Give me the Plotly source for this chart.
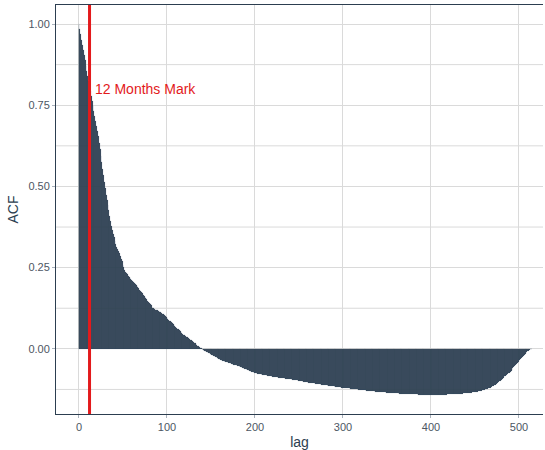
import plotly.graph_objects as go

# Autocorrelation estimates, one per lag (lag 0 .. 514)
lags = list(range(515))
acf_values = [
    1.000, 0.984, 0.968, 0.952, 0.936, 0.920, 0.904, 0.888, 0.872, 0.856,
    0.840, 0.825, 0.810, 0.794, 0.779, 0.763, 0.748, 0.732, 0.717, 0.701,
    0.686, 0.670, 0.655, 0.635, 0.615, 0.594, 0.574, 0.554, 0.534, 0.515,
    0.495, 0.475, 0.459, 0.443, 0.426, 0.410, 0.394, 0.377, 0.366, 0.355,
    0.344, 0.333, 0.323, 0.314, 0.306, 0.300, 0.294, 0.287, 0.278, 0.269,
    0.259, 0.251, 0.244, 0.238, 0.233, 0.229, 0.225, 0.222, 0.219, 0.216,
    0.213, 0.210, 0.207, 0.203, 0.200, 0.196, 0.193, 0.189, 0.186, 0.182,
    0.178, 0.175, 0.171, 0.167, 0.163, 0.160, 0.156, 0.152, 0.148, 0.145,
    0.141, 0.137, 0.134, 0.130, 0.127, 0.125, 0.123, 0.121, 0.120, 0.119,
    0.117, 0.116, 0.114, 0.112, 0.110, 0.108, 0.106, 0.104, 0.101, 0.099,
    0.096, 0.093, 0.090, 0.087, 0.085, 0.082, 0.079, 0.076, 0.073, 0.071,
    0.068, 0.065, 0.062, 0.060, 0.057, 0.054, 0.052, 0.049, 0.047, 0.044,
    0.042, 0.039, 0.037, 0.035, 0.033, 0.031, 0.029, 0.028, 0.026, 0.024,
    0.022, 0.019, 0.017, 0.014, 0.012, 0.010, 0.008, 0.006, 0.004, 0.002,
    -0.001, -0.003, -0.004, -0.006, -0.008, -0.009, -0.011, -0.012, -0.014, -0.015,
    -0.017, -0.018, -0.019, -0.021, -0.022, -0.024, -0.025, -0.027, -0.028, -0.030,
    -0.031, -0.033, -0.034, -0.036, -0.037, -0.038, -0.039, -0.040, -0.041, -0.042,
    -0.043, -0.044, -0.045, -0.046, -0.047, -0.048, -0.049, -0.049, -0.050, -0.051,
    -0.052, -0.053, -0.054, -0.055, -0.056, -0.057, -0.058, -0.060, -0.061, -0.062,
    -0.063, -0.064, -0.065, -0.066, -0.067, -0.068, -0.070, -0.071, -0.072, -0.073,
    -0.074, -0.075, -0.075, -0.076, -0.076, -0.077, -0.078, -0.078, -0.079, -0.079,
    -0.080, -0.081, -0.081, -0.082, -0.083, -0.083, -0.084, -0.084, -0.085, -0.085,
    -0.086, -0.086, -0.087, -0.087, -0.088, -0.088, -0.088, -0.089, -0.089, -0.090,
    -0.090, -0.090, -0.091, -0.091, -0.091, -0.092, -0.092, -0.092, -0.093, -0.093,
    -0.093, -0.094, -0.094, -0.095, -0.095, -0.096, -0.096, -0.097, -0.097, -0.098,
    -0.098, -0.099, -0.099, -0.100, -0.100, -0.101, -0.101, -0.102, -0.102, -0.103,
    -0.103, -0.104, -0.104, -0.104, -0.105, -0.105, -0.106, -0.106, -0.106, -0.107,
    -0.107, -0.108, -0.108, -0.109, -0.109, -0.109, -0.110, -0.110, -0.111, -0.111,
    -0.111, -0.112, -0.112, -0.113, -0.113, -0.113, -0.114, -0.114, -0.115, -0.115,
    -0.115, -0.116, -0.116, -0.117, -0.117, -0.118, -0.118, -0.118, -0.119, -0.119,
    -0.120, -0.120, -0.120, -0.121, -0.121, -0.121, -0.122, -0.122, -0.122, -0.123,
    -0.123, -0.123, -0.124, -0.124, -0.124, -0.125, -0.125, -0.125, -0.126, -0.126,
    -0.126, -0.127, -0.127, -0.127, -0.128, -0.128, -0.128, -0.129, -0.129, -0.129,
    -0.130, -0.130, -0.130, -0.131, -0.131, -0.131, -0.131, -0.132, -0.132, -0.132,
    -0.132, -0.133, -0.133, -0.133, -0.133, -0.134, -0.134, -0.134, -0.134, -0.135,
    -0.135, -0.135, -0.135, -0.135, -0.136, -0.136, -0.136, -0.136, -0.136, -0.137,
    -0.137, -0.137, -0.137, -0.137, -0.138, -0.138, -0.138, -0.138, -0.138, -0.138,
    -0.139, -0.139, -0.139, -0.139, -0.139, -0.139, -0.139, -0.140, -0.140, -0.140,
    -0.140, -0.140, -0.140, -0.140, -0.140, -0.140, -0.141, -0.141, -0.141, -0.141,
    -0.141, -0.141, -0.141, -0.141, -0.141, -0.141, -0.141, -0.141, -0.141, -0.142,
    -0.142, -0.142, -0.142, -0.142, -0.142, -0.142, -0.142, -0.142, -0.142, -0.142,
    -0.142, -0.142, -0.142, -0.141, -0.141, -0.141, -0.141, -0.141, -0.141, -0.140,
    -0.140, -0.140, -0.140, -0.140, -0.140, -0.140, -0.140, -0.139, -0.139, -0.139,
    -0.139, -0.139, -0.138, -0.138, -0.138, -0.138, -0.138, -0.137, -0.137, -0.137,
    -0.137, -0.137, -0.136, -0.136, -0.136, -0.135, -0.135, -0.134, -0.134, -0.134,
    -0.133, -0.133, -0.132, -0.132, -0.131, -0.130, -0.130, -0.129, -0.128, -0.127,
    -0.127, -0.126, -0.125, -0.124, -0.123, -0.122, -0.121, -0.120, -0.119, -0.117,
    -0.115, -0.114, -0.112, -0.110, -0.108, -0.106, -0.104, -0.102, -0.100, -0.098,
    -0.095, -0.093, -0.090, -0.088, -0.085, -0.083, -0.080, -0.078, -0.075, -0.073,
    -0.070, -0.067, -0.064, -0.060, -0.057, -0.054, -0.050, -0.047, -0.044, -0.041,
    -0.037, -0.034, -0.031, -0.028, -0.025, -0.022, -0.019, -0.016, -0.013, -0.010,
    -0.008, -0.006, -0.004, -0.002, -0.001,
]

mark_lag = 12
mark_label = "12 Months Mark"
x_ticks = [0, 100, 200, 300, 400, 500]
y_ticks = [0.0, 0.25, 0.50, 0.75, 1.00]
y_tick_labels = ["0.00", "0.25", "0.50", "0.75", "1.00"]
y_minor = [-0.125, 0.125, 0.375, 0.625, 0.875]

navy = "#2C3E50"
red = "#E31A1C"
grid = "#DADADA"
font_family = "Liberation Sans, Arial, sans-serif"

fig = go.Figure()
fig.add_trace(go.Bar(
    x=lags,
    y=acf_values,
    width=1.0,
    marker=dict(color=navy, line=dict(color="#3F5369", width=0.15)),
    hoverinfo="x+y",
    showlegend=False,
))

# secondary horizontal grid lines between the labelled ones
for yv in y_minor:
    fig.add_shape(type="line", xref="paper", x0=0, x1=1, yref="y", y0=yv, y1=yv,
                  line=dict(color=grid, width=1), layer="below")

# vertical marker at 12 months
fig.add_shape(type="line", xref="x", x0=mark_lag, x1=mark_lag, yref="paper", y0=0, y1=1,
              line=dict(color=red, width=3), layer="above")
fig.add_annotation(x=mark_lag + 3.5, y=0.80, xref="x", yref="y", text=mark_label,
                   showarrow=False, xanchor="left", yanchor="middle",
                   font=dict(family=font_family, size=14, color=red))

fig.update_layout(
    width=545, height=450,
    margin=dict(l=56, r=2, t=5, b=36),
    paper_bgcolor="white", plot_bgcolor="white",
    bargap=0,
    font=dict(family=font_family, color="#4D5663"),
    xaxis=dict(
        range=[-26.1, 527.3], tickvals=x_ticks, ticktext=[str(v) for v in x_ticks],
        showgrid=True, gridcolor=grid, gridwidth=1, zeroline=False,
        showline=True, linecolor=navy, linewidth=1, mirror=True,
        ticks="outside", ticklen=3, tickcolor="#AAB2BC",
        tickfont=dict(size=11, color="#4D5663"),
        title=dict(text="lag", font=dict(size=14, color="#2C3E50"), standoff=6),
    ),
    yaxis=dict(
        range=[-0.2006, 1.0586], tickvals=y_ticks, ticktext=y_tick_labels,
        showgrid=True, gridcolor=grid, gridwidth=1, zeroline=False,
        showline=True, linecolor=navy, linewidth=1,
        ticks="outside", ticklen=3, tickcolor="#AAB2BC",
        tickfont=dict(size=11, color="#4D5663"),
        title=dict(text="ACF", font=dict(size=14, color="#2C3E50"), standoff=6),
    ),
)

fig.write_html("out.html")
